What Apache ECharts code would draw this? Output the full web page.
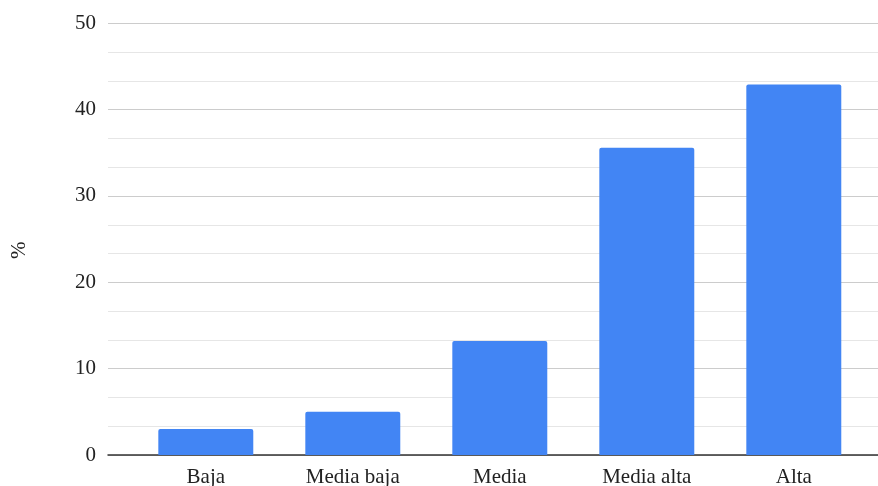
<!DOCTYPE html>
<html>
<head>
<meta charset="utf-8">
<script src="https://cdn.jsdelivr.net/npm/echarts@6/dist/echarts.min.js"></script>
<style>
html,body{margin:0;padding:0;background:#fff;}
#c{width:878px;height:486px;}
</style>
</head>
<body>
<div id="c"></div>
<script>
const categories = ["Baja", "Media baja", "Media", "Media alta", "Alta"];
const values = [3.0, 5.0, 13.2, 35.6, 42.9];
const yTicks = [0, 10, 20, 30, 40, 50];

const font = "'Liberation Serif', 'Times New Roman', serif";
const chart = echarts.init(document.getElementById('c'), null, {renderer: 'canvas'});
chart.setOption({
  animation: false,
  backgroundColor: '#ffffff',
  grid: [
    {left: 108, right: 0, top: 23.3, bottom: 31, containLabel: false, outerBoundsMode: 'none'},
    {left: 132.3, right: 10.7, top: 23.3, bottom: 31, containLabel: false, outerBoundsMode: 'none'}
  ],
  xAxis: [
    {gridIndex: 0, type: 'value', min: 0, max: 1,
     axisLine: {show: true, onZero: false, lineStyle: {color: '#333', width: 1.5}},
     axisTick: {show: false}, axisLabel: {show: false}, splitLine: {show: false}},
    {gridIndex: 1, type: 'category', data: categories,
     axisLine: {show: false}, axisTick: {show: false},
     axisLabel: {color: '#222', fontFamily: font, fontSize: 21, margin: 12}}
  ],
  yAxis: [
    {gridIndex: 0, type: 'value', min: yTicks[0], max: yTicks[yTicks.length - 1], interval: 10,
     name: '%', nameLocation: 'middle', nameRotate: 90, nameGap: 78,
     nameTextStyle: {color: '#222', fontFamily: font, fontSize: 21, padding: [0, 22, 0, 0]},
     axisLine: {show: false}, axisTick: {show: false},
     axisLabel: {color: '#222', fontFamily: font, fontSize: 21, margin: 12},
     splitLine: {show: true, lineStyle: {color: '#cccccc', width: 1}},
     minorTick: {show: false, splitNumber: 3},
     minorSplitLine: {show: true, lineStyle: {color: '#e6e6e6', width: 1}}},
    {gridIndex: 1, type: 'value', min: yTicks[0], max: yTicks[yTicks.length - 1], show: false}
  ],
  series: [{
    type: 'bar', xAxisIndex: 1, yAxisIndex: 1, data: values,
    barWidth: '64.6%',
    itemStyle: {color: '#4285F4', borderRadius: [2, 2, 0, 0]}
  }]
});
</script>
</body>
</html>
